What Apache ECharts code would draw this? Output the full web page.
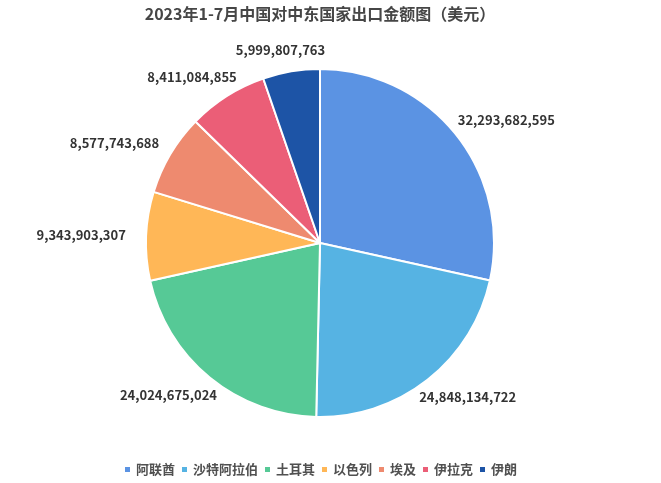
<!DOCTYPE html>
<html>
<head>
<meta charset="utf-8">
<script src="https://cdn.jsdelivr.net/npm/echarts@6/dist/echarts.min.js"></script>
<style>
html,body{margin:0;padding:0;background:#fff;}
#main{width:640px;height:483px;}
</style>
</head>
<body>
<div id="main"></div>
<script>
const titleText = '2023年1-7月中国对中东国家出口金额图（美元）';
const categories = ['阿联酋', '沙特阿拉伯', '土耳其', '以色列', '埃及', '伊拉克', '伊朗'];
const values = [32293682595, 24848134722, 24024675024, 9343903307, 8577743688, 8411084855, 5999807763];
const colors = ['#5B93E3', '#56B3E3', '#56C996', '#FFB757', '#EE8A6F', '#EB5E77', '#1D54A6'];

const FONT = '"Noto Sans CJK SC", "Noto Sans", sans-serif';
const chart = echarts.init(document.getElementById('main'), null, {renderer: 'canvas'});
const option = {
  backgroundColor: '#fff',
  color: colors,
  animation: false,
  title: {
    text: titleText,
    left: 'center',
    top: 1,
    textStyle: {fontSize: 16, fontWeight: 'bold', color: '#464646', fontFamily: FONT}
  },
  legend: {
    data: categories,
    top: 458,
    left: 'center',
    icon: 'rect',
    itemWidth: 7,
    itemHeight: 7,
    itemGap: 5,
    textStyle: {fontSize: 13, fontWeight: 'bold', color: '#505050', fontFamily: FONT}
  },
  series: [{
    type: 'pie',
    center: ['50%', 243],
    radius: 174,
    startAngle: 90,
    clockwise: true,
    data: categories.map((c, i) => ({name: c, value: values[i]})),
    itemStyle: {borderColor: '#fff', borderWidth: 2},
    label: {
      show: true,
      position: 'outside',
      formatter: p => echarts.format.addCommas(p.value),
      fontSize: 13,
      fontWeight: 'bold',
      color: '#333',
      fontFamily: FONT
    },
    labelLine: {show: true, length: 22, length2: 0, lineStyle: {opacity: 0}},
    labelLayout: function (params) {
      const p = params.labelLinePoints;
      if (!p) return {};
      const dx = p[1][0] - p[0][0], dy = p[1][1] - p[0][1];
      const len = Math.hypot(dx, dy) || 1;
      return {x: p[1][0] + dx / len * 43, y: p[1][1], align: 'center', verticalAlign: 'middle'};
    },
    emphasis: {disabled: true}
  }]
};
chart.setOption(option);
</script>
</body>
</html>
